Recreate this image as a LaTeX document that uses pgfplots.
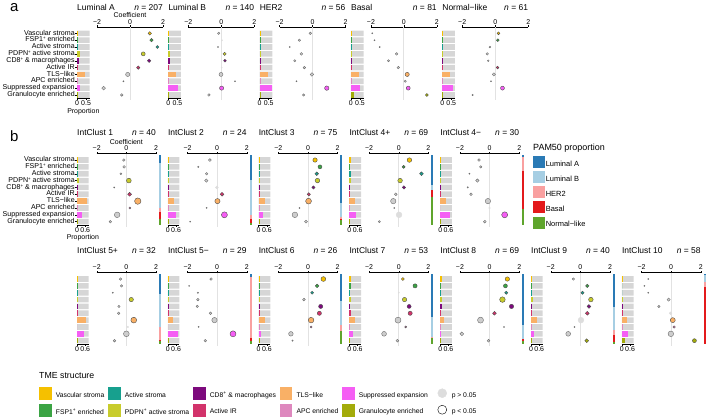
\documentclass[border=0pt]{standalone}
\usepackage{fontspec}
\setmainfont{Liberation Sans}
\usepackage{pgfplots}
\usepackage{pgfplotstable}
\pgfplotsset{compat=1.18}

\definecolor{tme1}{HTML}{F5C000}
\definecolor{tme2}{HTML}{3BA444}
\definecolor{tme3}{HTML}{17A08E}
\definecolor{tme4}{HTML}{C8CC2C}
\definecolor{tme5}{HTML}{7D0A7D}
\definecolor{tme6}{HTML}{D2336B}
\definecolor{tme7}{HTML}{F9B066}
\definecolor{tme8}{HTML}{DE88BE}
\definecolor{tme9}{HTML}{F55EF4}
\definecolor{tme10}{HTML}{A3AB0A}
\definecolor{pamLA}{HTML}{2A7AB5}
\definecolor{pamLB}{HTML}{A6CEE3}
\definecolor{pamH}{HTML}{F9A0A0}
\definecolor{pamB}{HTML}{E31A1C}
\definecolor{pamN}{HTML}{5FA52D}
\definecolor{bggray}{HTML}{D6D6D6}
\definecolor{ptgray}{HTML}{CDCDCD}
\definecolor{ltgray}{HTML}{DDDDDD}
\definecolor{zgray}{HTML}{E2E2E2}

\newcommand\titlefont{\fontsize{8.5}{10}\selectfont}
\newcommand\tickfont{\fontsize{7}{8}\selectfont}
\newcommand\rowfont{\fontsize{7.1}{8}\selectfont}
\newcommand\spl{\raisebox{0.28em}{\fontsize{4.4}{5}\selectfont +}}

\pgfplotsset{
 barax/.style={scale only axis, anchor=north west, width=\bw bp, height=68.5bp,
   xmin=0, xmax=\bxm, ymin=0.5, ymax=10.5, y dir=reverse,
   axis x line*=bottom, axis y line*=left, y axis line style={draw=none},
   ytick=\empty, xtick={0,\xtl}, xticklabels={0,\xtl},
   tick align=outside, major tick length=1.5bp,
   every tick/.style={black, line width=0.4bp},
   x axis line style={black, line width=0.4bp},
   xticklabel style={font=\tickfont, inner sep=1bp},
   yticklabel style={font=\rowfont, inner sep=0.6bp, text height=4.5bp, text depth=1.1bp},
   xlabel style={font=\tickfont, inner sep=1bp}, clip=false},
 coefax/.style={scale only axis, anchor=north west, width=\cw bp, height=71.6bp,
   xmin=-2, xmax=2, ymin=0.047, ymax=10.5, y dir=reverse,
   axis x line*=top, axis y line=none, ytick=\empty,
   xtick={-2,0,2}, xticklabels={−2,0,2},
   tick align=outside, major tick length=1.5bp,
   every tick/.style={black, line width=0.4bp},
   x axis line style={black, line width=0.4bp},
   xticklabel style={font=\tickfont, inner sep=1bp},
   xlabel style={font=\tickfont, inner sep=0.5bp}, clip=false},
 firstbar/.style={ytick={1,...,10}, yticklabels={Vascular stroma, FSP1\spl\ enriched, Active stroma, PDPN\spl\ active stroma, CD8\spl\ \& macrophages, Active IR, TLS−like, APC enriched, Suppressed expansion, Granulocyte enriched}, xlabel={Proportion}},
 firstcoef/.style={xlabel={Coefficient}},
 zeroline/.style={color=zgray, line width=0.9bp, forget plot},
 dots/.style={scatter, only marks, mark=*, point meta=explicit symbolic,
   scatter/classes={V={fill=tme1,draw=black!70}, F={fill=tme2,draw=black!70},
     A={fill=tme3,draw=black!70}, P={fill=tme4,draw=black!70},
     C={fill=tme5,draw=black!70}, I={fill=tme6,draw=black!70},
     T={fill=tme7,draw=black!70}, E={fill=tme8,draw=black!70},
     S={fill=tme9,draw=black!70}, G={fill=tme10,draw=black!70},
     g={fill=ptgray,draw=gray!85!black}, l={fill=ltgray,draw=ltgray}},
   visualization depends on={\thisrow{r}\as\rr},
   scatter/@pre marker code/.append style={/tikz/mark size=\rr bp, /tikz/line width=0.35bp}},
}

\newcommand\tmebars[1]{\pgfplotsinvokeforeach{1,...,10}{\addplot[xbar, bar width=0.82, bar shift=0pt, fill=tme##1, draw=none, forget plot, restrict expr to domain={\thisrow{row}}{##1:##1}] table[x=p, y=row]{#1};}}
\newcommand\bgplot[1]{\addplot[xbar, bar width=0.82, bar shift=0pt, fill=bggray, draw=none, forget plot] table[x=g, y=row]{#1};}

\newcommand\panel[8]{%
 \pgfmathsetmacro\rowtop{-(#2+24.1)}%
 \pgfmathsetmacro\coefx{#1+\cx}%
 \pgfmathsetmacro\coeftop{-(#2+21)}%
 \pgfmathsetmacro\nx{#1+\cx+\cw}%
 \node[anchor=base west, font=\titlefont, inner sep=0pt] at (#1bp,-#3bp) {#4};
 \node[anchor=base east, font=\titlefont, inner sep=0pt] at (\nx bp,-#3bp) {\textit{n} = #5};
 \begin{axis}[barax, at={(#1bp,\rowtop bp)}, #7]
  \expandafter\bgplot\expandafter{\bgtab}
  \tmebars{#6}
 \end{axis}
 \begin{axis}[coefax, at={(\coefx bp,\coeftop bp)}, #8]
  \addplot[zeroline] coordinates {(0,0.05) (0,10.75)};
  \addplot[dots] table[x=c, y=row, meta=k]{#6};
 \end{axis}
}

\newcommand\pamstrip[7]{%
 \pgfmathsetmacro\sx{#1+82.8}%
 \pgfmathsetmacro\sy{-(#2+22.5)}%
 \begin{axis}[scale only axis, hide axis, at={(\sx bp,\sy bp)}, anchor=north, width=2bp, height=70bp,
   xmin=-0.5, xmax=0.5, ymin=0, ymax=1, y dir=reverse, ybar stacked, bar width=2bp, clip=false]
  \addplot[fill=pamLA, draw=none] coordinates {(0,#3)};
  \addplot[fill=pamLB, draw=none] coordinates {(0,#4)};
  \addplot[fill=pamH, draw=none] coordinates {(0,#5)};
  \addplot[fill=pamB, draw=none] coordinates {(0,#6)};
  \addplot[fill=pamN, draw=none] coordinates {(0,#7)};
 \end{axis}
}

\newcommand\sqentry[2]{\addlegendimage{legend image code/.code={\fill[#1] (0bp,-3.5bp) rectangle (11.7bp,8.5bp);}}\addlegendentry{#2}}
\newcommand\pamentry[2]{\addlegendimage{legend image code/.code={\fill[#1] (0bp,-3.0bp) rectangle (10.7bp,8.0bp);}}\addlegendentry{#2}}

% background bars
\pgfplotstableread{
row g
1 0.7
2 0.7
3 0.7
4 0.7
5 0.7
6 0.7
7 0.7
8 0.7
9 0.7
10 0.7
}\bgA
\pgfplotstableread{
row g
1 0.85
2 0.85
3 0.85
4 0.85
5 0.85
6 0.85
7 0.85
8 0.85
9 0.85
10 0.85
}\bgB

% ---- panel a data: proportion p, coefficient c, dot radius r, class k
\pgfplotstableread{
row p c r k
1 0.07 1.20 1.7 V
2 0.07 1.30 1.7 F
3 0.05 1.66 1.5 A
4 0.15 0.80 2.0 P
5 0.09 1.16 1.8 C
6 0.07 0.50 1.7 I
7 0.46 -0.14 2.1 g
8 0.01 -0.40 0.6 g
9 0.18 -1.60 1.9 g
10 0.04 -0.50 1.3 g
}\tLA
\pgfplotstableread{
row p c r k
1 0.04 -0.16 1.2 g
2 0.03 0.04 0.6 l
3 0.03 -0.20 0.6 g
4 0.12 0.20 1.6 P
5 0.07 0.22 1.4 C
6 0.06 0.02 0.6 l
7 0.43 -0.02 2.0 g
8 0.04 0.83 0.6 g
9 0.52 0.02 2.1 S
10 0.04 -0.75 1.3 g
}\tLB
\pgfplotstableread{
row p c r k
1 0.03 -0.14 1.3 g
2 0.02 -0.80 1.2 g
3 0.02 -1.38 0.6 g
4 0.05 -0.68 1.4 g
5 0.03 -1.08 1.1 g
6 0.03 -0.50 1.3 g
7 0.46 -0.04 1.8 g
8 0.02 -0.98 0.6 g
9 0.70 0.86 2.2 S
10 0.05 -0.54 1.2 g
}\tHE
\pgfplotstableread{
row p c r k
1 0.01 -1.92 0.6 g
2 0.01 -1.78 0.6 g
3 0.01 -1.47 0.6 g
4 0.05 -0.44 1.3 g
5 0.03 -0.93 1.1 g
6 0.03 -0.34 1.3 g
7 0.46 0.20 2.1 T
8 0.01 0.08 1.1 g
9 0.52 0.26 2.0 S
10 0.17 1.39 1.5 G
}\tBA
\pgfplotstableread{
row p c r k
1 0.05 0.20 1.4 V
2 0.05 0.16 1.4 F
3 0.03 -0.32 0.9 g
4 0.05 -0.48 1.3 g
5 0.03 -0.42 0.9 g
6 0.05 0.14 1.4 I
7 0.44 -0.08 1.6 g
8 0.02 -0.26 0.6 g
9 0.57 0.44 2.0 S
10 0.03 -1.37 0.7 g
}\tNL
% ---- panel b data
\pgfplotstableread{
row p c r k
1 0.06 -0.17 1.3 g
2 0.04 -0.15 1.3 g
3 0.04 -0.37 0.9 g
4 0.11 0.17 2.4 P
5 0.02 -0.82 0.6 g
6 0.08 0.22 1.9 I
7 0.72 0.77 3.2 T
8 0.02 0.24 1.0 E
9 0.33 -0.62 2.8 g
10 0.04 -1.08 1.3 g
}\tIa
\pgfplotstableread{
row p c r k
1 0.06 -0.49 1.4 g
2 0.03 -1.27 0.7 g
3 0.03 -0.71 1.3 g
4 0.06 -0.73 1.7 g
5 0.06 -0.02 1.5 l
6 0.08 0.33 1.9 I
7 0.45 0.02 2.6 T
8 0.02 -0.71 0.6 g
9 0.63 0.49 3.0 S
10 0.04 -1.82 0.6 g
}\tIb
\pgfplotstableread{
row p c r k
1 0.08 0.48 2.2 V
2 0.06 0.81 2.0 F
3 0.08 0.59 1.8 A
4 0.12 0.64 2.3 P
5 0.06 0.37 1.6 C
6 0.08 0.06 1.6 I
7 0.48 0.04 2.9 T
8 0.02 -0.57 0.6 g
9 0.29 -0.88 2.8 g
10 0.04 -0.13 1.5 g
}\tIc
\pgfplotstableread{
row p c r k
1 0.08 0.72 2.3 V
2 0.05 0.33 1.5 F
3 0.10 1.53 1.9 A
4 0.08 0.09 2.3 P
5 0.05 0.35 1.7 C
6 0.05 -0.20 1.4 g
7 0.41 -0.37 2.7 g
8 0.02 -0.31 0.6 g
9 0.48 0.02 2.9 l
10 0.04 -1.31 1.1 g
}\tIdp
\pgfplotstableread{
row p c r k
1 0.05 -0.71 1.3 g
2 0.02 -0.60 1.2 g
3 0.02 -1.36 0.6 g
4 0.04 -0.82 1.7 g
5 0.02 -1.47 0.7 g
6 0.02 -1.25 1.3 g
7 0.43 -0.11 2.7 g
8 0.00 0.00 0.8 l
9 0.72 1.02 3.0 S
10 0.04 -0.32 1.4 g
}\tIdm
\pgfplotstableread{
row p c r k
1 0.05 -0.39 1.3 g
2 0.03 -0.33 1.2 g
3 0.02 -0.91 0.6 g
4 0.10 0.33 2.2 P
5 0.02 -0.50 1.2 g
6 0.02 -0.52 1.3 g
7 0.62 0.50 2.9 T
8 0.00 0.10 0.8 l
9 0.48 0.00 2.9 g
10 0.04 -0.80 1.3 g
}\tIep
\pgfplotstableread{
row p c r k
1 0.04 -0.41 1.3 g
2 0.02 -1.89 0.6 g
3 0.01 -1.30 0.7 g
4 0.02 -1.30 1.3 g
5 0.01 -1.34 1.2 g
6 0.04 -0.45 1.3 g
7 0.36 -0.18 2.7 g
8 0.00 -1.25 0.6 g
9 0.77 1.07 3.0 S
10 0.02 -0.80 1.3 g
}\tIem
\pgfplotstableread{
row p c r k
1 0.09 1.04 2.4 V
2 0.04 0.62 1.8 F
3 0.02 0.28 1.5 A
4 0.06 -0.27 1.4 g
5 0.07 0.86 2.1 C
6 0.07 0.77 2.1 I
7 0.48 0.21 2.8 T
8 0.02 0.21 1.0 E
9 0.19 -1.15 2.3 g
10 0.02 -1.04 0.7 g
}\tIf
\pgfplotstableread{
row p c r k
1 0.08 0.28 1.5 V
2 0.09 1.10 2.1 F
3 0.03 0.00 0.7 l
4 0.12 0.39 2.2 P
5 0.07 0.70 2.0 C
6 0.09 0.77 2.1 I
7 0.41 -0.05 3.0 g
8 0.02 0.47 1.0 E
9 0.24 -0.99 2.4 g
10 0.05 -0.09 1.4 g
}\tIg
\pgfplotstableread{
row p c r k
1 0.10 1.20 2.2 V
2 0.08 1.07 2.0 F
3 0.06 1.13 1.6 A
4 0.12 0.87 2.8 P
5 0.14 1.48 2.2 C
6 0.07 0.33 1.9 I
7 0.31 -0.61 3.0 g
8 0.03 0.98 0.6 g
9 0.09 -1.87 1.9 g
10 0.05 -0.07 1.4 g
}\tIh
\pgfplotstableread{
row p c r k
1 0.02 -0.47 1.2 g
2 0.08 0.47 1.7 F
3 0.04 0.15 1.6 A
4 0.11 0.71 2.3 P
5 0.08 0.58 1.9 C
6 0.08 0.47 1.9 I
7 0.46 0.04 2.9 l
8 0.02 -0.39 0.6 g
9 0.24 -0.82 2.4 g
10 0.08 0.43 1.9 G
}\tIi
\pgfplotstableread{
row p c r k
1 0.02 -1.54 0.6 g
2 0.00 -1.80 0.6 g
3 0.00 -1.54 0.6 g
4 0.04 -0.17 1.6 g
5 0.02 -0.83 1.2 g
6 0.04 -0.04 1.4 l
7 0.41 0.11 2.5 T
8 0.02 0.20 1.2 E
9 0.46 -0.02 2.8 g
10 0.20 1.57 2.0 G
}\tIj

\begin{document}
\begin{tikzpicture}
\useasboundingbox (0,0) rectangle (706bp,-420bp);
\node[anchor=base west, font=\fontsize{15}{16}\selectfont, inner sep=0pt] at (10bp,-11.7bp) {a};
\node[anchor=base west, font=\fontsize{15}{16}\selectfont, inner sep=0pt] at (10bp,-141.7bp) {b};

% ===== panel a
\def\cx{20}\def\cw{66}\def\bw{12.7}\def\bxm{0.7}\def\xtl{0.5}\def\bgtab{\bgA}
\panel{77}{5.8}{10}{Luminal A}{207}{\tLA}{firstbar}{firstcoef}
\panel{168.3}{5.8}{10}{Luminal B}{140}{\tLB}{}{}
\panel{259.6}{5.8}{10}{HER2}{56}{\tHE}{}{}
\panel{350.9}{5.8}{10}{Basal}{81}{\tBA}{}{}
\panel{442.2}{5.8}{10}{Normal−like}{61}{\tNL}{}{}

% ===== panel b, row 1
\def\cx{19.7}\def\cw{59.3}\def\bw{11.7}\def\bxm{0.85}\def\xtl{0.6}\def\bgtab{\bgB}
\panel{77}{132.5}{135.5}{IntClust 1}{40}{\tIa}{firstbar}{firstcoef}
\pamstrip{77}{132.5}{0.11}{0.65}{0.06}{0.10}{0.08}
\panel{167.8}{132.5}{135.5}{IntClust 2}{24}{\tIb}{}{}
\pamstrip{167.8}{132.5}{0.35}{0.51}{0.05}{0.06}{0.03}
\panel{258.6}{132.5}{135.5}{IntClust 3}{75}{\tIc}{}{}
\pamstrip{258.6}{132.5}{0.69}{0.19}{0.03}{0.02}{0.07}
\panel{349.4}{132.5}{135.5}{IntClust 4+}{69}{\tIdp}{}{}
\pamstrip{349.4}{132.5}{0.43}{0.07}{0.00}{0.10}{0.40}
\panel{440.2}{132.5}{135.5}{IntClust 4−}{30}{\tIdm}{}{}
\pamstrip{440.2}{132.5}{0.03}{0.00}{0.20}{0.54}{0.23}

% ===== panel b, row 2
\panel{77}{251.5}{253.5}{IntClust 5+}{32}{\tIep}{}{}
\pamstrip{77}{251.5}{0.29}{0.47}{0.18}{0.01}{0.05}
\panel{167.8}{251.5}{253.5}{IntClust 5−}{29}{\tIem}{}{}
\pamstrip{167.8}{251.5}{0.04}{0.00}{0.88}{0.03}{0.05}
\panel{258.6}{251.5}{253.5}{IntClust 6}{26}{\tIf}{}{}
\pamstrip{258.6}{251.5}{0.38}{0.35}{0.08}{0.00}{0.19}
\panel{349.4}{251.5}{253.5}{IntClust 7}{53}{\tIg}{}{}
\pamstrip{349.4}{251.5}{0.61}{0.29}{0.02}{0.00}{0.08}
\panel{440.2}{251.5}{253.5}{IntClust 8}{69}{\tIh}{}{}
\pamstrip{440.2}{251.5}{0.73}{0.20}{0.00}{0.03}{0.04}
\panel{531}{251.5}{253.5}{IntClust 9}{40}{\tIi}{}{}
\pamstrip{531}{251.5}{0.47}{0.33}{0.07}{0.10}{0.03}
\panel{621.8}{251.5}{253.5}{IntClust 10}{58}{\tIj}{}{}
\pamstrip{621.8}{251.5}{0.02}{0.10}{0.07}{0.81}{0.00}

% ===== PAM50 legend
\node[anchor=base west, font=\fontsize{9}{10}\selectfont, inner sep=0pt] at (533bp,-150.3bp) {PAM50 proportion};
\begin{axis}[hide axis, scale only axis, width=1bp, height=1bp, xmin=0, xmax=1, ymin=0, ymax=1,
  at={(533.3bp,-156bp)}, anchor=north west, legend cell align=left,
  legend style={at={(0,1)}, anchor=north west, draw=none, fill=none, inner sep=0pt, outer sep=0pt,
    font=\fontsize{7.5}{8}\selectfont, row sep=3.3bp,
    /tikz/every odd column/.append style={column sep=1.2bp}, nodes={inner sep=0.2bp}}]
\pamentry{pamLA}{Luminal A}
\pamentry{pamLB}{Luminal B}
\pamentry{pamH}{HER2}
\pamentry{pamB}{Basal}
\pamentry{pamN}{Normal−like}
\end{axis}

% ===== TME legend
\node[anchor=base west, font=\fontsize{8.8}{10}\selectfont, inner sep=0pt] at (39bp,-378.7bp) {TME structure};
\begin{axis}[hide axis, scale only axis, width=1bp, height=1bp, xmin=0, xmax=1, ymin=0, ymax=1,
  at={(39bp,-387bp)}, anchor=north west, legend columns=6, legend cell align=left,
  legend style={at={(0,1)}, anchor=north west, draw=none, fill=none, inner sep=0pt, outer sep=0pt,
    font=\fontsize{6.8}{8}\selectfont, row sep=4bp,
    /tikz/every odd column/.append style={column sep=4.6bp},
    /tikz/every even column/.append style={column sep=3.5bp}, nodes={inner sep=0.2bp}}]
\sqentry{tme1}{Vascular stroma}
\sqentry{tme3}{Active stroma}
\sqentry{tme5}{CD8\textsuperscript{+} \& macrophages}
\sqentry{tme7}{TLS−like}
\sqentry{tme9}{Suppressed expansion}
\addlegendimage{legend image code/.code={\path (-6bp,0bp); \fill[ltgray] (4.5bp,2.5bp) circle (4.5bp);}}
\addlegendentry{p > 0.05}
\sqentry{tme2}{FSP1\textsuperscript{+} enriched}
\sqentry{tme4}{PDPN\textsuperscript{+} active stroma}
\sqentry{tme6}{Active IR}
\sqentry{tme8}{APC enriched}
\sqentry{tme10}{Granulocyte enriched}
\addlegendimage{legend image code/.code={\path (-6bp,0bp); \draw[black, line width=0.4bp, fill=white] (4.5bp,2.5bp) circle (4.5bp);}}
\addlegendentry{p < 0.05}
\end{axis}
\end{tikzpicture}
\end{document}
